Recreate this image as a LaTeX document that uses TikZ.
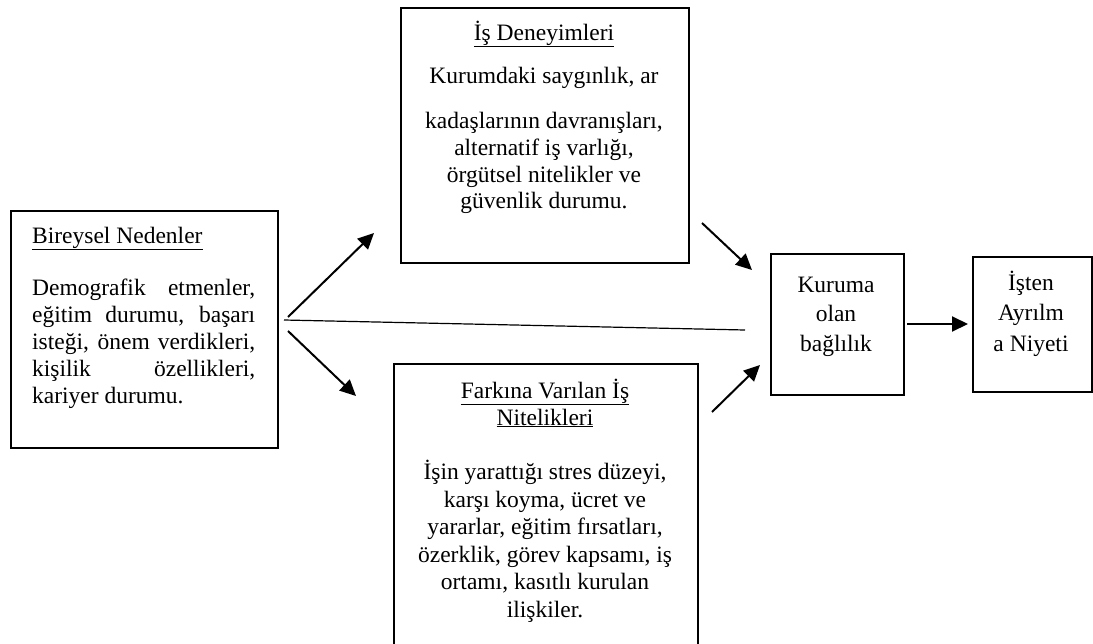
\documentclass[tikz,border=0pt]{standalone}
\usepackage{fontspec}
\setmainfont{Liberation Serif}
\usetikzlibrary{arrows.meta}
\begin{document}
\begin{tikzpicture}[x=1pt,y=-1pt,
  every node/.style={font=\fontsize{23.5}{27}\selectfont},
  box/.style={draw, line width=2.2pt, inner sep=0pt, anchor=north west},
  arr/.style={line width=2pt, -{Triangle[length=16pt,width=15pt]}},
  thin/.style={line width=1.2pt},
  cline/.style={inner sep=0pt, anchor=base},
  lline/.style={inner sep=0pt, anchor=base west}]
\useasboundingbox (0,0) rectangle (1093,643);
\clip (0,0) rectangle (1093,643);
% boxes
\node[box, minimum width=267pt, minimum height=237pt] (bn) at (10,210) {};
\node[box, minimum width=288pt, minimum height=255pt] (id) at (400,7) {};
\node[box, minimum width=304pt, minimum height=300pt] (fv) at (393,363) {};
\node[box, minimum width=133pt, minimum height=141pt] (kb) at (770,253) {};
\node[box, minimum width=119pt, minimum height=135pt] (ia) at (972,256) {};
% left box text
\node[lline] (bn0) at (32,243) {\underline{Bireysel Nedenler}};
\node[lline] (bn1) at (32,295) {\makebox[223pt][s]{Demografik etmenler,}};
\node[lline] (bn2) at (32,322) {\makebox[223pt][s]{eğitim durumu, başarı}};
\node[lline] (bn3) at (32,349) {\makebox[223pt][s]{isteği, önem verdikleri,}};
\node[lline] (bn4) at (32,376) {\makebox[223pt][s]{kişilik özellikleri,}};
\node[lline] (bn5) at (32,403) {kariyer durumu.};
% top box text
\node[cline] (id0) at (544,40) {\underline{İş Deneyimleri}};
\node[cline] (id1) at (544,83) {Kurumdaki saygınlık, ar};
\node[cline] (id2) at (544,128) {kadaşlarının davranışları,};
\node[cline] (id3) at (544,155) {alternatif iş varlığı,};
\node[cline] (id4) at (544,182) {örgütsel nitelikler ve};
\node[cline] (id5) at (544,208) {güvenlik durumu.};
% bottom box text
\node[cline] (fv0) at (545,398) {\underline{Farkına Varılan İş}};
\node[cline] (fv1) at (545,425) {\underline{Nitelikleri}};
\node[cline] (fv2) at (545,479) {İşin yarattığı stres düzeyi,};
\node[cline] (fv3) at (545,507) {karşı koyma, ücret ve};
\node[cline] (fv4) at (545,534) {yararlar, eğitim fırsatları,};
\node[cline] (fv5) at (545,562) {özerklik, görev kapsamı, iş};
\node[cline] (fv6) at (545,589) {ortamı, kasıtlı kurulan};
\node[cline] (fv7) at (545,617) {ilişkiler.};
% Kuruma box
\node[cline] (kb0) at (836,292) {Kuruma};
\node[cline] (kb1) at (836,321) {olan};
\node[cline] (kb2) at (836,351) {bağlılık};
% Isten box
\node[cline] (ia0) at (1031,290) {İşten};
\node[cline] (ia1) at (1031,320) {Ayrılm};
\node[cline] (ia2) at (1031,351) {a Niyeti};
% connector end points
\coordinate (a1s) at (288,317); \coordinate (a1e) at (374,233);
\coordinate (a2s) at (288,331); \coordinate (a2e) at (356,396);
\coordinate (l1s) at (284,320); \coordinate (l1e) at (745,330);
\coordinate (a3s) at (702,223); \coordinate (a3e) at (752,270);
\coordinate (a4s) at (712,412); \coordinate (a4e) at (760,365);
\coordinate (a5s) at (907,324); \coordinate (a5e) at (968,324);
\draw[arr] (a1s) -- (a1e);
\draw[arr] (a2s) -- (a2e);
\draw[thin] (l1s) -- (l1e);
\draw[arr] (a3s) -- (a3e);
\draw[arr] (a4s) -- (a4e);
\draw[arr] (a5s) -- (a5e);
\end{tikzpicture}
\end{document}
